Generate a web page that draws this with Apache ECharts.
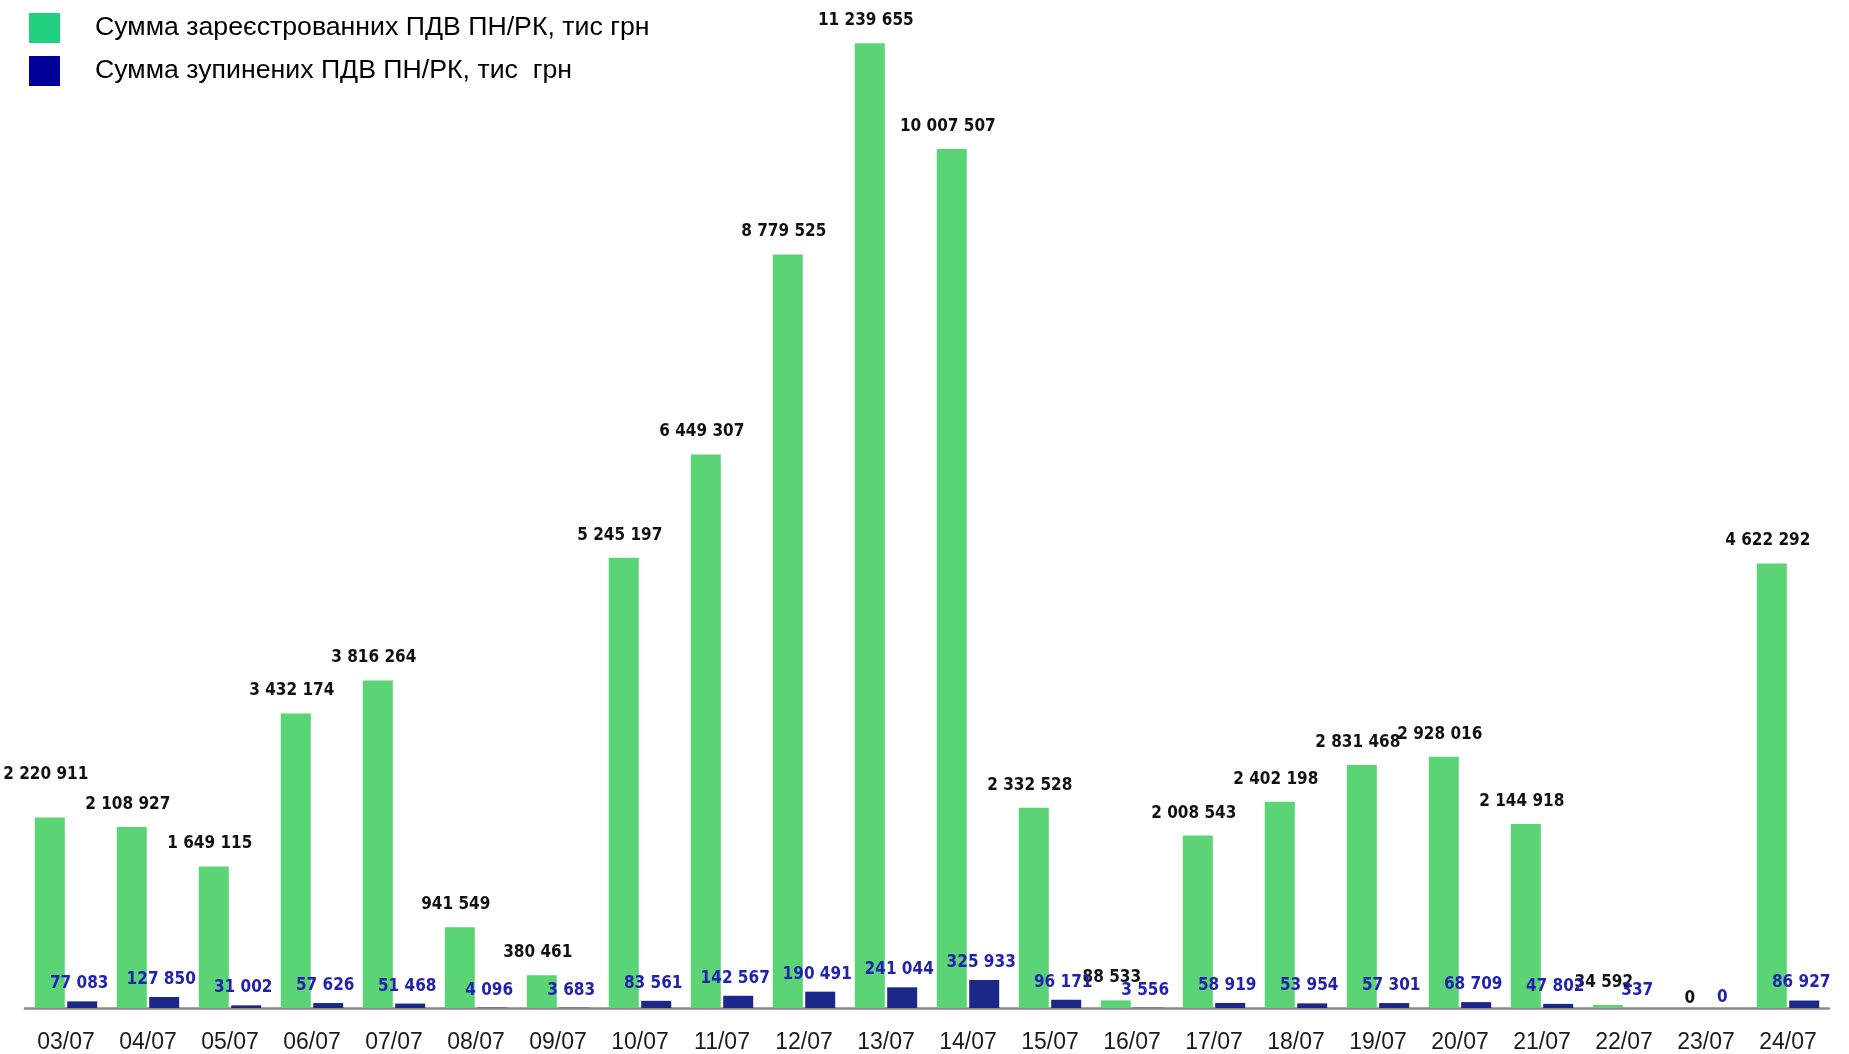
<!DOCTYPE html>
<html>
<head>
<meta charset="utf-8">
<script src="https://cdn.jsdelivr.net/npm/echarts@6/dist/echarts.min.js"></script>
<style>
  html, body { margin: 0; padding: 0; background: #fff; }
  #main { width: 1849px; height: 1054px; }
</style>
</head>
<body>
<div id="main"></div>
<script>
const days = ['03/07', '04/07', '05/07', '06/07', '07/07', '08/07', '09/07', '10/07', '11/07', '12/07', '13/07',
  '14/07', '15/07', '16/07', '17/07', '18/07', '19/07', '20/07', '21/07', '22/07', '23/07', '24/07']
// printed values
const registered = [2220911, 2108927, 1649115, 3432174, 3816264, 941549, 380461, 5245197, 6449307, 8779525, 11239655,
  10007507, 2332528, 88533, 2008543, 2402198, 2831468, 2928016, 2144918, 34592, 0, 4622292]
// bar heights as drawn (24/07 bar is drawn taller than its label in the original)
const registeredBars = [2220911, 2108927, 1649115, 3432174, 3816264, 941549, 380461, 5245197, 6449307, 8779525, 11239655,
  10007507, 2332528, 88533, 2008543, 2402198, 2831468, 2928016, 2144918, 34592, 0, 5180000]
const stopped = [77083, 127850, 31002, 57626, 51468, 4096, 3683, 83561, 142567, 190491, 241044,
  325933, 96171, 3556, 58919, 53954, 57301, 68709, 47802, 337, 0, 86927]
const nameReg = 'Сумма зареєстрованних ПДВ ПН/РК, тис грн'
const nameStop = 'Сумма зупинених ПДВ ПН/РК, тис  грн'

// 1 234 567 style
function fmt(v) {
  return String(v).replace(/\B(?=(\d{3})+(?!\d))/g, ' ')
}

const labelFont = '"DejaVu Sans Condensed", "Liberation Sans", sans-serif'

var myChart = echarts.init(document.getElementById('main'))
var option = {
  animation: false,
  backgroundColor: '#fff',
  legend: {
    orient: 'vertical',
    left: 24,
    top: 8,
    itemWidth: 31,
    itemHeight: 30,
    itemGap: 13,
    textStyle: {
      fontFamily: '"Liberation Sans", Arial, sans-serif',
      fontSize: 26.7,
      color: '#000',
      padding: [0, 0, 4, 30],
    },
    data: [
      { name: nameReg, icon: 'rect', itemStyle: { color: '#20d07e' } },
      { name: nameStop, icon: 'rect', itemStyle: { color: '#000099' } },
    ],
  },
  grid: { left: 25, right: 20, top: 21, bottom: 44 },
  xAxis: [
    {
      type: 'category',
      data: days,
      axisLine: { lineStyle: { color: '#8a8a8a', width: 2.5 } },
      axisTick: { length: 42, lineStyle: { color: '#c4c4c4', width: 1 } },
      axisLabel: {
        color: '#1a1a1a',
        fontSize: 23,
        margin: 23,
        fontFamily: '"Liberation Sans", Arial, sans-serif',
      },
    },
    {
      type: 'category',
      data: days,
      position: 'bottom',
      axisLine: { show: false },
      axisTick: { inside: true, length: 8, lineStyle: { color: '#c4c4c4', width: 1 } },
      axisLabel: { show: false },
    },
  ],
  yAxis: {
    type: 'value',
    min: 0,
    max: 11500000,
    show: false,
    splitLine: { show: false },
  },
  series: [
    {
      name: nameReg,
      type: 'bar',
      data: registeredBars.map((v, i) => {
        if (i === 0) return { value: v, label: { offset: [-4, -20] } }
        if (v === 0) return { value: v, label: { offset: [0, 13] } }
        return v
      }),
      barWidth: 30,
      barGap: '8%',
      itemStyle: { color: '#5bd476' },
      label: {
        show: true,
        position: 'top',
        distance: 14,
        offset: [-4, 0],
        color: '#111',
        fontWeight: 'bold',
        fontSize: 17,
        fontFamily: labelFont,
        formatter: (p) => fmt(registered[p.dataIndex]),
      },
    },
    {
      name: nameStop,
      type: 'bar',
      data: stopped.map((v) => (v === 0 ? { value: v, label: { offset: [0, 7] } } : v)),
      barWidth: 30,
      itemStyle: { color: '#1b2889' },
      label: {
        show: true,
        position: 'top',
        distance: 9,
        offset: [-3, 0],
        color: '#2222b0',
        fontWeight: 'bold',
        fontSize: 17,
        fontFamily: labelFont,
        formatter: (p) => fmt(p.value),
      },
    },
  ],
}

option && myChart.setOption(option)
</script>
</body>
</html>
